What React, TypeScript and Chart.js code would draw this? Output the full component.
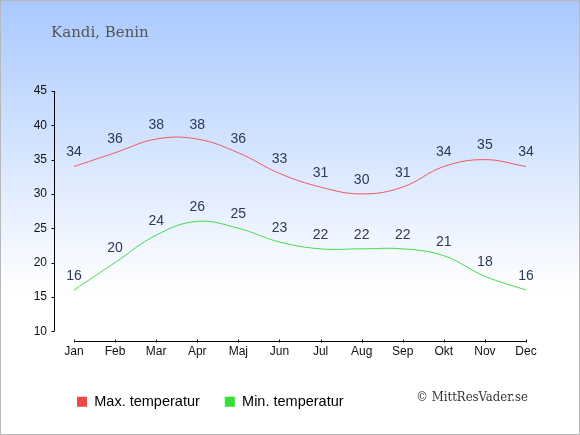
import { useEffect, useRef } from 'react'
import { Chart, registerables } from 'chart.js'

Chart.register(...registerables)

const months = ['Jan', 'Feb', 'Mar', 'Apr', 'Maj', 'Jun', 'Jul', 'Aug', 'Sep', 'Okt', 'Nov', 'Dec']
const maxTemp = [34, 36, 38, 38, 36, 33, 31, 30, 31, 34, 35, 34]
const minTemp = [16, 20, 24, 26, 25, 23, 22, 22, 22, 21, 18, 16]
const yTicks = [10, 15, 20, 25, 30, 35, 40, 45]

const title = 'Kandi, Benin'
const credit = '© MittResVader.se'

// axis lines, value labels, title and credit
const decorPlugin = {
  id: 'decor',
  afterLayout(chart: any) {
    // nudge the legend so its first box lines up with the reference
    const lg = chart.legend
    if (lg) { lg.left += 32; lg.right += 32 }
  },
  afterDraw(chart: Chart) {
    const { ctx, chartArea, scales } = chart
    const x = scales.x
    const y = scales.y
    ctx.save()
    ctx.strokeStyle = '#000'
    ctx.lineWidth = 1
    // y axis sits 20px left of the plot
    const ax = Math.round(chartArea.left - 20) + 0.5
    ctx.beginPath()
    ctx.moveTo(ax, y.getPixelForValue(45))
    ctx.lineTo(ax, y.getPixelForValue(10))
    yTicks.forEach((v) => {
      const py = Math.round(y.getPixelForValue(v)) + 0.5
      ctx.moveTo(ax - 3, py)
      ctx.lineTo(ax, py)
    })
    // small upward ticks on x axis
    const by = Math.round(chartArea.bottom) + 0.5
    months.forEach((_, i) => {
      const px = Math.round(x.getPixelForValue(i)) + 0.5
      ctx.moveTo(px, by)
      ctx.lineTo(px, by - 3)
    })
    ctx.stroke()

    // value labels
    ctx.font = '14px "Liberation Sans", Arial, sans-serif'
    ctx.fillStyle = '#2a3a58'
    ctx.textAlign = 'center'
    ctx.textBaseline = 'middle'
    chart.data.datasets.forEach((ds, di) => {
      const meta = chart.getDatasetMeta(di)
      meta.data.forEach((pt, i) => {
        ctx.fillText(String(ds.data[i]), pt.x, pt.y - 14)
      })
    })

    ctx.font = '15px "DejaVu Serif", Georgia, serif'
    ctx.fillStyle = '#555'
    ctx.textAlign = 'left'
    ctx.fillText(title, 51, 33)

    ctx.font = '13px "DejaVu Serif Condensed", "DejaVu Serif", serif'
    ctx.fillStyle = '#333'
    ctx.textAlign = 'right'
    ctx.fillText(credit, 528, 398)
    ctx.restore()
  },
}

export default function App() {
  const ref = useRef<HTMLCanvasElement>(null)
  const chartRef = useRef<Chart | null>(null)

  useEffect(() => {
    document.body.style.margin = '0'
    if (!ref.current) return
    if (chartRef.current) chartRef.current.destroy()

    chartRef.current = new Chart(ref.current, {
      type: 'line',
      data: {
        labels: months,
        datasets: [
          {
            label: 'Max. temperatur',
            data: maxTemp,
            borderColor: '#ee5a5a',
            backgroundColor: '#f04848',
            borderWidth: 1,
            pointRadius: 0,
            tension: 0.4,
          },
          {
            label: 'Min. temperatur',
            data: minTemp,
            borderColor: '#44dd44',
            backgroundColor: '#33e033',
            borderWidth: 1,
            pointRadius: 0,
            tension: 0.4,
          },
        ],
      },
      plugins: [decorPlugin],
      options: {
        animation: false,
        responsive: true,
        maintainAspectRatio: false,
        layout: { padding: { left: 20, right: 54, top: 91, bottom: 16 } },
        scales: {
          x: {
            offset: false,
            grid: { display: false, drawTicks: false },
            border: { display: true, color: '#000', width: 1 },
            ticks: {
              color: '#111',
              padding: 3,
              maxRotation: 0,
              font: { family: '"Liberation Sans", Arial, sans-serif', size: 12 },
            },
            afterFit: (s: any) => { s.height = 28 },
          },
          y: {
            min: 8.5,
            max: 45,
            grid: { display: false, drawTicks: false },
            border: { display: false },
            afterBuildTicks: (s: any) => { s.ticks = yTicks.map((v) => ({ value: v })) },
            afterFit: (s: any) => { s.width = 54 },
            ticks: {
              color: '#111',
              padding: 27,
              font: { family: '"Liberation Sans", Arial, sans-serif', size: 12 },
            },
          },
        },
        plugins: {
          tooltip: { enabled: false },
          legend: {
            position: 'bottom',
            align: 'start',
            labels: {
              boxWidth: 10,
              boxHeight: 10,
              padding: 25,
              color: '#222',
              font: { family: '"Liberation Sans", Arial, sans-serif', size: 14.5 },
              generateLabels: (c: Chart) =>
                c.data.datasets.map((ds: any, i: number) => ({
                  text: ds.label,
                  fillStyle: ds.backgroundColor,
                  strokeStyle: ds.backgroundColor,
                  lineWidth: 0,
                  datasetIndex: i,
                  hidden: false,
                })),
            },
          },
        },
      },
    })

    return () => { chartRef.current?.destroy() }
  }, [])

  return (
    <div
      style={{
        position: 'relative',
        width: 580,
        height: 435,
        boxSizing: 'border-box',
        border: '1px solid #b8b8b8',
        background: 'linear-gradient(to bottom, #a9c9ff 0px, #ffffff 290px, #ffffff 435px)',
      }}
    >
      <div style={{ position: 'absolute', left: -1, top: -1, width: 580, height: 435 }}>
        <canvas ref={ref} />
      </div>
    </div>
  )
}
